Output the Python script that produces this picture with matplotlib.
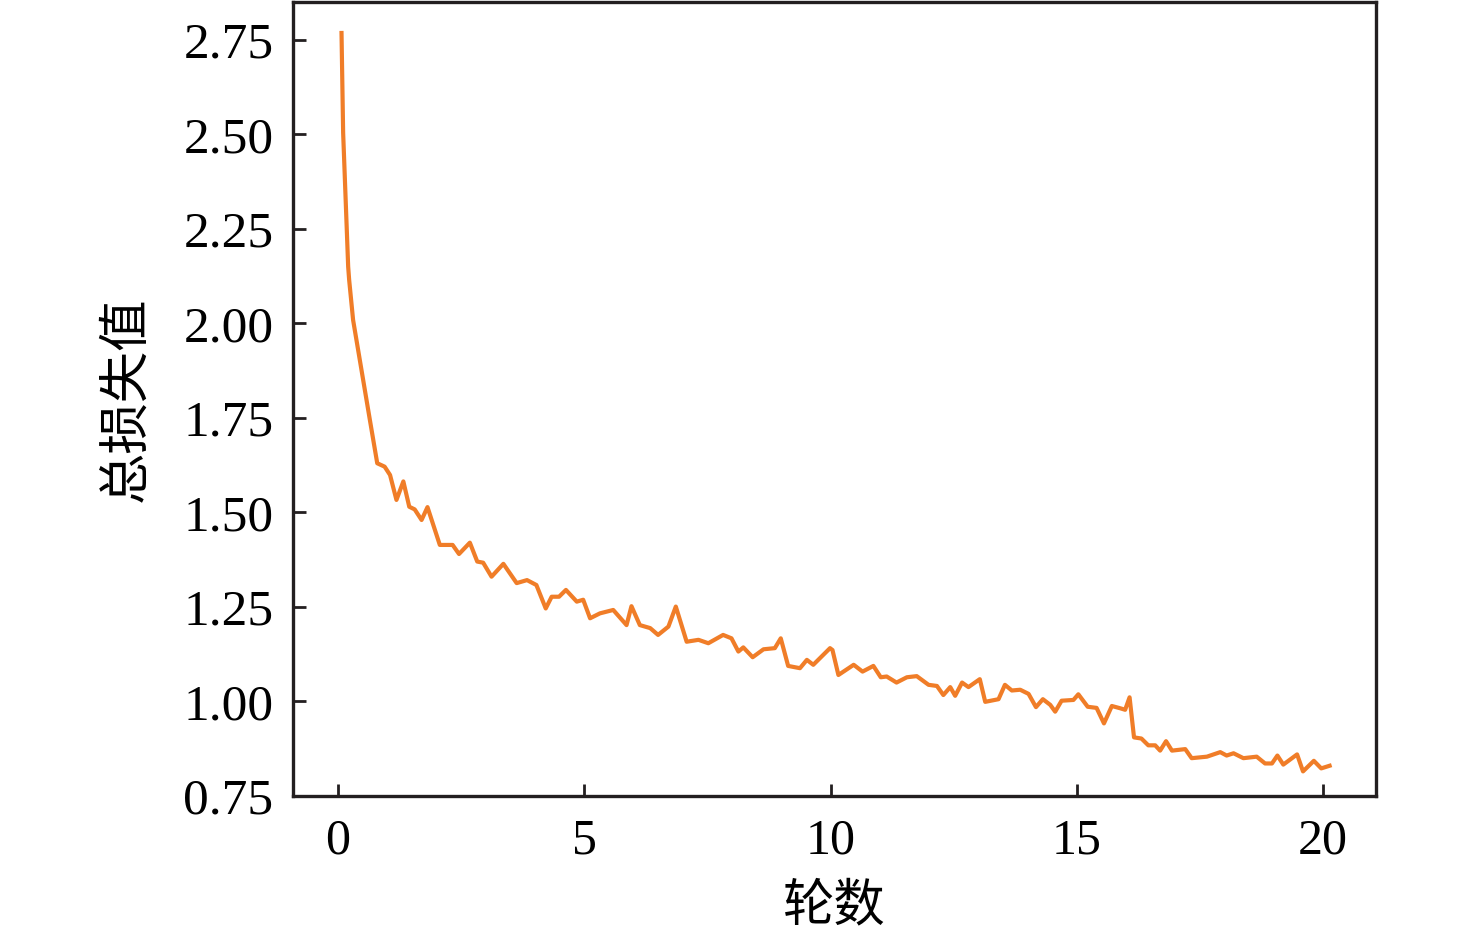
import numpy as np
import matplotlib.pyplot as plt

# Loss curve (epoch, total loss)
epochs = [0.075, 0.108, 0.21, 0.23, 0.31, 0.48, 0.65, 0.80, 0.95, 1.06, 1.19, 1.33, 1.45,
          1.56, 1.70, 1.82, 2.07, 2.33, 2.46, 2.68, 2.83, 2.95, 3.12, 3.36, 3.63, 3.84,
          4.03, 4.22, 4.34, 4.49, 4.63, 4.85, 4.98, 5.12, 5.32, 5.59, 5.86, 5.96, 6.13,
          6.34, 6.50, 6.71, 6.86, 7.08, 7.32, 7.52, 7.82, 7.99, 8.13, 8.23, 8.42, 8.64,
          8.87, 8.99, 9.14, 9.38, 9.52, 9.65, 9.99, 10.04, 10.16, 10.47, 10.65, 10.87,
          11.02, 11.14, 11.34, 11.55, 11.75, 11.99, 12.16, 12.29, 12.43, 12.53, 12.67,
          12.80, 13.03, 13.14, 13.41, 13.54, 13.68, 13.85, 14.02, 14.17, 14.31, 14.46,
          14.56, 14.69, 14.93, 15.03, 15.22, 15.40, 15.55, 15.71, 15.88, 15.98, 16.07,
          16.16, 16.31, 16.45, 16.59, 16.69, 16.81, 16.93, 17.20, 17.33, 17.64, 17.91,
          18.04, 18.18, 18.38, 18.65, 18.82, 18.96, 19.07, 19.19, 19.47, 19.59, 19.81,
          19.96, 20.13]
loss = [2.768, 2.504, 2.15, 2.115, 2.009, 1.877, 1.745, 1.630, 1.621, 1.599, 1.533, 1.582,
        1.515, 1.508, 1.480, 1.514, 1.414, 1.414, 1.390, 1.420, 1.370, 1.367, 1.330, 1.364,
        1.313, 1.321, 1.308, 1.246, 1.277, 1.277, 1.295, 1.264, 1.269, 1.220, 1.233, 1.242,
        1.202, 1.252, 1.202, 1.194, 1.176, 1.198, 1.251, 1.158, 1.163, 1.154, 1.176, 1.167,
        1.132, 1.143, 1.117, 1.138, 1.141, 1.167, 1.094, 1.088, 1.110, 1.097, 1.141, 1.136,
        1.070, 1.097, 1.079, 1.094, 1.064, 1.066, 1.050, 1.064, 1.067, 1.044, 1.041, 1.017,
        1.038, 1.015, 1.050, 1.038, 1.059, 0.999, 1.006, 1.044, 1.029, 1.031, 1.020, 0.985,
        1.006, 0.991, 0.973, 1.002, 1.004, 1.019, 0.986, 0.983, 0.942, 0.988, 0.982, 0.978,
        1.011, 0.905, 0.902, 0.884, 0.884, 0.870, 0.895, 0.870, 0.874, 0.850, 0.854, 0.866,
        0.857, 0.863, 0.850, 0.854, 0.836, 0.836, 0.857, 0.833, 0.860, 0.815, 0.843, 0.823,
        0.830]

x_ticks = [0, 5, 10, 15, 20]
y_ticks = [0.75, 1.00, 1.25, 1.50, 1.75, 2.00, 2.25, 2.50, 2.75]

num_font = 'Liberation Serif'
cjk_font = ['Noto Sans CJK SC', 'DejaVu Sans']

fig = plt.figure(figsize=(14.76, 9.39), dpi=100)
ax = fig.add_axes([0.1985, 0.1523, 0.7337, 0.8456])

ax.plot(epochs, loss, color='#F07D28', linewidth=3.0)

ax.set_xlim(-0.91, 21.07)
ax.set_ylim(0.75, 2.85)
ax.set_xticks(x_ticks)
ax.set_yticks(y_ticks)
ax.set_xticklabels([str(t) for t in x_ticks], fontfamily=num_font, fontsize=36)
ax.set_yticklabels([f'{t:.2f}' for t in y_ticks], fontfamily=num_font, fontsize=37)
ax.tick_params(direction='in', length=9, width=2.0, color='#231F20', pad=14)
ax.tick_params(axis='x', pad=16)

for s in ax.spines.values():
    s.set_linewidth(2.4)
    s.set_color('#231F20')

ax.set_xlabel('轮数', fontfamily=cjk_font, fontsize=37, labelpad=10)
ax.set_ylabel('总损失值', fontfamily=cjk_font, fontsize=37, labelpad=22)

fig.savefig('out.png', dpi=100)
